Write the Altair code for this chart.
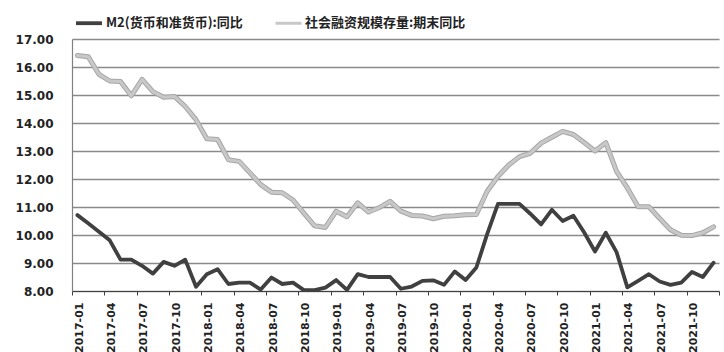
import altair as alt
import pandas as pd

months = [f"{y}-{m:02d}" for y in range(2017, 2022) for m in range(1, 13)]
tick_labels = months[::3]

name_m2 = "M2(货币和准货币):同比"
name_tsf = "社会融资规模存量:期末同比"

m2 = [10.71, 10.42, 10.12, 9.81, 9.12, 9.12, 8.90, 8.62, 9.04, 8.90,
      9.12, 8.15, 8.60, 8.78, 8.25, 8.30, 8.30, 8.05, 8.48, 8.25,
      8.30, 8.03, 8.03, 8.12, 8.39, 8.04, 8.60, 8.50, 8.50, 8.50,
      8.08, 8.16, 8.36, 8.38, 8.22, 8.70, 8.39, 8.84, 10.03, 11.11,
      11.11, 11.11, 10.76, 10.38, 10.90, 10.50, 10.69, 10.09, 9.41, 10.08,
      9.39, 8.13, 8.36, 8.60, 8.34, 8.22, 8.30, 8.68, 8.50, 9.01]

tsf = [16.41, 16.37, 15.74, 15.50, 15.48, 14.97, 15.56, 15.12, 14.92, 14.95,
       14.59, 14.12, 13.44, 13.41, 12.69, 12.63, 12.22, 11.80, 11.53, 11.51,
       11.25, 10.78, 10.33, 10.27, 10.85, 10.65, 11.15, 10.82, 10.98, 11.20,
       10.85, 10.70, 10.68, 10.58, 10.67, 10.69, 10.72, 10.73, 11.56, 12.09,
       12.50, 12.80, 12.92, 13.28, 13.49, 13.70, 13.59, 13.30, 13.00, 13.30,
       12.27, 11.68, 11.01, 11.01, 10.59, 10.19, 9.99, 9.98, 10.08, 10.29]

y_ticks = [8, 9, 10, 11, 12, 13, 14, 15, 16, 17]

n = len(months)
df = pd.DataFrame({
    "idx": list(range(n)) * 2,
    "month": months * 2,
    "value": m2 + tsf,
    "series": [name_m2] * n + [name_tsf] * n,
})

label_array = "[" + ",".join(f"'{s}'" for s in tick_labels) + "]"
label_expr = f"{label_array}[round((datum.value + 0.5) / 3)] || ''"

x_enc = alt.X(
    "idx:Q",
    scale=alt.Scale(domain=[-0.5, n - 0.5], nice=False, zero=False),
    axis=alt.Axis(
        values=[-0.5 + 3 * k for k in range(n // 3 + 1)],
        labelExpr=label_expr,
        labelAngle=-90,
        labelAlign="right",
        labelBaseline="middle",
        labelOffset=7,
        labelPadding=7,
        labelOverlap=False,
        labelFlush=False,
        labelFont="DejaVu Sans",
        labelFontSize=11,
        labelFontWeight="bold",
        labelColor="#222222",
        tickSize=4,
        tickColor="#404040",
        tickWidth=1,
        domainColor="#404040",
        domainWidth=1.2,
        grid=False,
        title=None,
    ),
)

y_enc = alt.Y(
    "value:Q",
    scale=alt.Scale(domain=[8, 17], nice=False, zero=False),
    axis=alt.Axis(
        values=y_ticks,
        format=".2f",
        grid=True,
        gridColor="#8a8a8a",
        gridWidth=1.3,
        ticks=False,
        labelPadding=19,
        labelFont="DejaVu Sans",
        labelFontSize=12,
        labelFontWeight="bold",
        labelColor="#222222",
        domainColor="#808080",
        domainWidth=1.2,
        title=None,
    ),
)

outline = alt.Chart(df).transform_filter(
    alt.datum.series == name_tsf
).mark_line(strokeJoin="round", strokeCap="round").encode(
    x=x_enc,
    y=y_enc,
    color=alt.value("#a6a6a6"),
    strokeWidth=alt.value(5),
    detail="series:N",
)

lines = alt.Chart(df).mark_line(strokeJoin="round", strokeCap="round").encode(
    x=x_enc,
    y=y_enc,
    color=alt.Color(
        "series:N",
        scale=alt.Scale(domain=[name_m2, name_tsf], range=["#404040", "#c8c8c8"]),
        sort=[name_m2, name_tsf],
        legend=alt.Legend(
            title=None,
            orient="none",
            legendX=2,
            legendY=-31,
            direction="horizontal",
            symbolType="stroke",
            symbolSize=676,
            symbolStrokeWidth=3,
            labelFont="Noto Sans CJK SC",
            labelFontSize=13,
            labelFontWeight="bold",
            labelColor="#222222",
            labelOffset=2,
            labelLimit=400,
            columnPadding=26,
        ),
    ),
    strokeWidth=alt.StrokeWidth(
        "series:N",
        scale=alt.Scale(domain=[name_m2, name_tsf], range=[3.8, 3.0]),
        legend=None,
    ),
)

chart = alt.layer(outline, lines).properties(
    width=647,
    height=252,
    padding={"left": 72, "top": 39, "right": 5, "bottom": 61},
    autosize=alt.AutoSizeParams(type="none"),
    background="white",
).configure_view(stroke=None)

chart.save("out.html", embed_options={"renderer": "svg", "actions": False})
